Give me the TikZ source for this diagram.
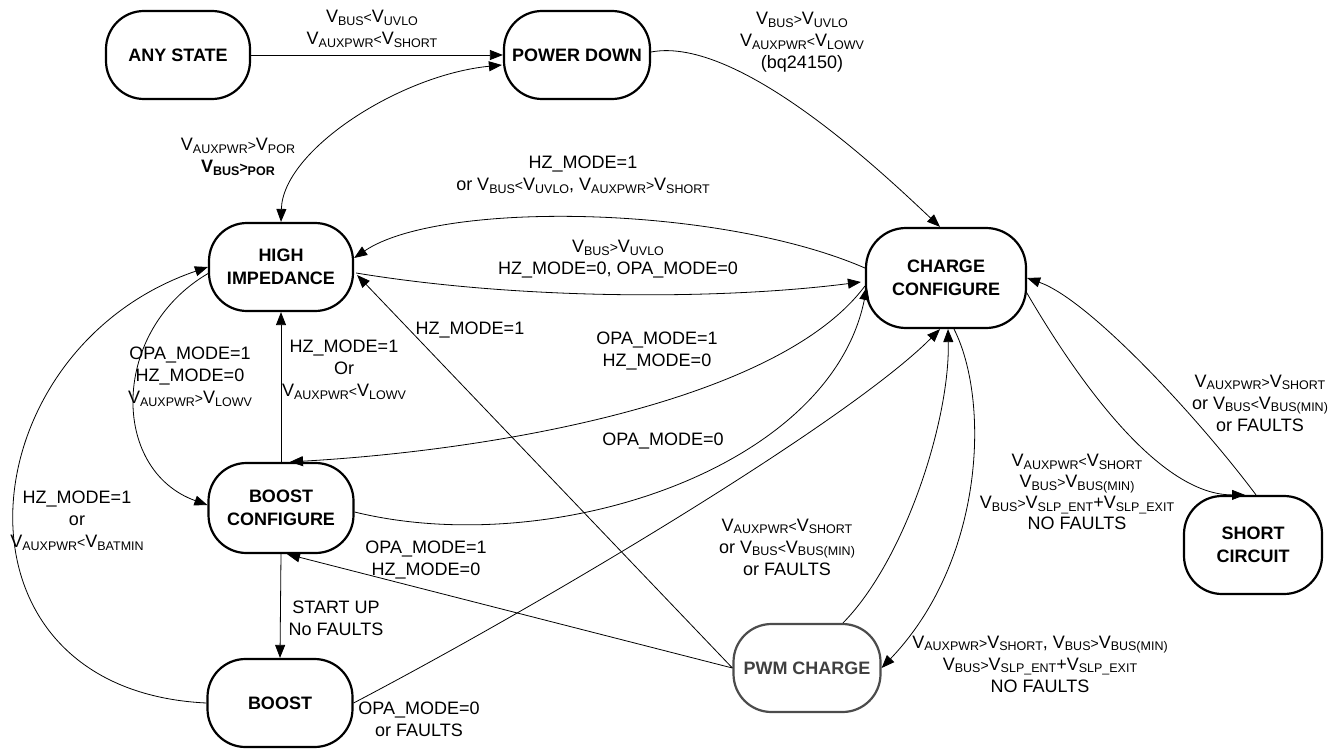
\documentclass[tikz,border=0pt]{standalone}
\usepackage{fontspec}
\setmainfont{Liberation Sans}
\usetikzlibrary{arrows.meta,calc}
% small lowered subscripts and compact relation signs used in the conditions
\newcommand{\sbx}[1]{\raisebox{-0.3ex}{\fontsize{12.5}{12.5}\selectfont #1}}
\newcommand{\ltx}{{\fontsize{14}{14}\selectfont<}}
\newcommand{\gtx}{{\fontsize{14}{14}\selectfont>}}
\newcommand{\Vv}[1]{V\sbx{#1}}
\begin{document}
\begin{tikzpicture}[x=1pt,y=-1pt,
  state/.style={draw, line width=2.2pt, rounded corners=38pt,
    minimum width=144pt, minimum height=88pt, align=center, inner sep=0pt,
    font=\bfseries\fontsize{18}{23}\selectfont},
  lbl/.style={align=center, inner sep=0pt, font=\fontsize{18}{22}\selectfont},
  tr/.style={line width=0.8pt, -{Triangle[length=13pt,width=10pt]}},
  tr2/.style={line width=0.8pt, {Triangle[length=13pt,width=10pt]}-{Triangle[length=13pt,width=10pt]}}]
\useasboundingbox (0,0) rectangle (1337,749);

% states
\node[state] (ANY) at (178,55) {ANY STATE};
\node[state, minimum width=146pt] (PD) at (577,55) {POWER DOWN};
\node[state] (HI) at (281,267) {HIGH\\IMPEDANCE};
\node[state, minimum width=160pt, minimum height=100pt, rounded corners=40pt] (CC) at (946,278) {CHARGE\\CONFIGURE};
\node[state, minimum width=145pt, minimum height=90pt] (BC) at (281,508) {BOOST\\CONFIGURE};
\node[state, minimum width=145pt] (BO) at (280,703) {BOOST};
\node[state, minimum width=147pt, draw=black!70, text=black!75] (PWM) at (807,668) {PWM CHARGE};
\node[state, minimum width=138pt, minimum height=98pt] (SC) at (1253,545) {SHORT\\CIRCUIT};

% transitions
\draw[tr] (ANY) -- (PD);
\draw[tr2] (HI.north) .. controls (283,150) and (400,75) .. ($(PD.west)+(-1,10)$);
\draw[tr] ($(PD.east)+(0,-3)$) .. controls (740,35) and (890,180) .. ($(CC.north)+(-6,0)$);
\draw[tr] ($(CC.west)+(0,-10)$) .. controls (720,205) and (440,200) .. ($(HI.east)+(0,-9)$);
\draw[tr] ($(HI.east)+(2,6)$) .. controls (520,300) and (720,300) .. ($(CC.west)+(-4,4)$);
\draw[tr] (PWM.west) -- ($(HI.east)+(3,8)$);
\draw[tr] (BO.west) .. controls (-65,690) and (-35,350) .. (HI.west);
\draw[tr] ($(HI.west)+(1,6)$) .. controls (110,330) and (110,470) .. ($(BC.west)+(0,-3)$);
\draw[tr] (BC.north) -- (HI.south);
\draw[tr] ($(CC.west)+(0,8)$) .. controls (780,400) and (500,450) .. ($(BC.north)+(9,0)$);
\draw[tr] ($(BC.east)+(0,4)$) .. controls (550,560) and (830,470) .. ($(CC.west)+(2,9)$);
\draw[tr] (BO.east) .. controls (550,600) and (850,420) .. ($(CC.south)+(-6,0)$);
\draw[tr] (BC.south) -- (BO.north);
\draw[tr] (PWM.west) -- ($(BC.south)+(6,0)$);
\draw[tr] ($(PWM.north)+(36,0)$) .. controls (905,560) and (950,420) .. ($(CC.south)+(2,0)$);
\draw[tr] ($(CC.south)+(8,0)$) .. controls (990,400) and (985,560) .. (PWM.east);
\draw[tr] ($(SC.north)+(3,0)$) .. controls (1200,420) and (1090,300) .. (CC.east);
\draw[tr] ($(CC.east)+(-2,12)$) .. controls (1060,350) and (1150,495) .. ($(SC.north)+(-8,0)$);

% conditions
\node[lbl] (lA) at (372,29) {\Vv{BUS}\ltx\Vv{UVLO}\\\Vv{AUXPWR}\ltx\Vv{SHORT}};
\node[lbl] (lB) at (802,42) {\Vv{BUS}\gtx\Vv{UVLO}\\\Vv{AUXPWR}\ltx\Vv{LOWV}\\(bq24150)};
\node[lbl] (lC) at (238,157) {\Vv{AUXPWR}\gtx\Vv{POR}\\\textbf{\Vv{BUS}\gtx\sbx{POR}}};
\node[lbl] (lD) at (583,175) {HZ\_MODE=1\\or \Vv{BUS}\ltx\Vv{UVLO}, \Vv{AUXPWR}\gtx\Vv{SHORT}};
\node[lbl] (lE) at (618,259) {\Vv{BUS}\gtx\Vv{UVLO}\\HZ\_MODE=0, OPA\_MODE=0};
\node[lbl] (lF) at (470,330) {HZ\_MODE=1};
\node[lbl] (lG) at (657,351) {OPA\_MODE=1\\HZ\_MODE=0};
\node[lbl] (lH) at (663,441) {OPA\_MODE=0};
\node[lbl] (lI) at (190,377) {OPA\_MODE=1\\HZ\_MODE=0\\\Vv{AUXPWR}\gtx\Vv{LOWV}};
\node[lbl] (lJ) at (344,370) {HZ\_MODE=1\\Or\\\Vv{AUXPWR}\ltx\Vv{LOWV}};
\node[lbl] (lK) at (77,521) {HZ\_MODE=1\\or\\\Vv{AUXPWR}\ltx\Vv{BATMIN}};
\node[lbl] (lL) at (426,560) {OPA\_MODE=1\\HZ\_MODE=0};
\node[lbl] (lM) at (336,618) {START UP\\No FAULTS};
\node[lbl] (lN) at (419,719) {OPA\_MODE=0\\or FAULTS};
\node[lbl] (lO) at (787,547) {\Vv{AUXPWR}\ltx\Vv{SHORT}\\or \Vv{BUS}\ltx\Vv{BUS(MIN)}\\or FAULTS};
\node[lbl] (lP) at (1040,664) {\Vv{AUXPWR}\gtx\Vv{SHORT}, \Vv{BUS}\gtx\Vv{BUS(MIN)}\\\Vv{BUS}\gtx\Vv{SLP\_ENT}+\Vv{SLP\_EXIT}\\NO FAULTS};
\node[lbl, font=\fontsize{18}{21}\selectfont] (lQ) at (1077,492) {\Vv{AUXPWR}\ltx\Vv{SHORT}\\\Vv{BUS}\gtx\Vv{BUS(MIN)}\\\Vv{BUS}\gtx\Vv{SLP\_ENT}+\Vv{SLP\_EXIT}\\NO FAULTS};
\node[lbl] (lR) at (1260,403) {\Vv{AUXPWR}\gtx\Vv{SHORT}\\or \Vv{BUS}\ltx\Vv{BUS(MIN)}\\or FAULTS};
\end{tikzpicture}
\end{document}
